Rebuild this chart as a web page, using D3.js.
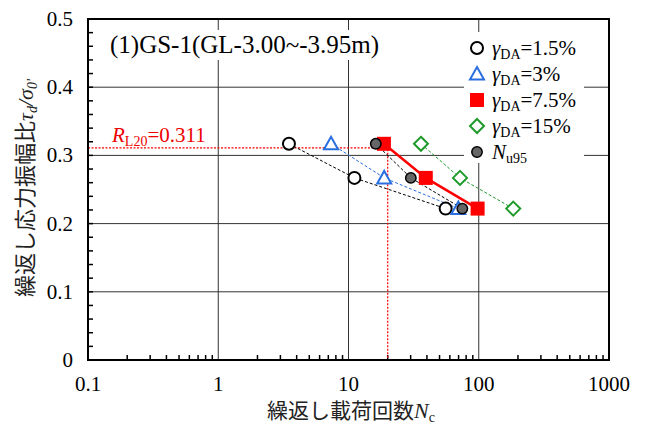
<!DOCTYPE html>
<html><head><meta charset="utf-8">
<script src="https://cdn.jsdelivr.net/npm/d3@7"></script>
<style>body{margin:0;background:#fff}svg{display:block}</style>
</head><body>
<svg id="c" width="646" height="424"></svg>
<script>
// ---- data ----
const stressRatio = [0.317, 0.267, 0.222];
const nc_DA1_5 = [3.49, 11.1, 55.7];
const nc_DA3 = [7.34, 18.8, 69.7];
const nc_DA7_5 = [18.7, 39.2, 98.0];
const nc_DA15 = [36.0, 71.8, 184];
const nc_Nu95 = [16.2, 30.1, 74.8];
const RL20 = 0.311;
const N20 = 20;
const xTicks = [0.1, 1, 10, 100, 1000];
const xTickLabels = ["0.1", "1", "10", "100", "1000"];
const yTicks = [0, 0.1, 0.2, 0.3, 0.4, 0.5];
const yTickLabels = ["0", "0.1", "0.2", "0.3", "0.4", "0.5"];
const legendLabels = ["=1.5%", "=3%", "=7.5%", "=15%"];

const svg = d3.select("#c");
const L = 88, R = 609, T = 19, B = 360;
const x = d3.scaleLog().domain([0.1, 1000]).range([L, R]);
const y = d3.scaleLinear().domain([0, 0.5]).range([B, T]);
const serif = "'Liberation Serif','Times New Roman',serif";
const cjk = "'Noto Sans CJK JP',sans-serif";

// grid
const g = svg.append("g");
g.selectAll("line.gx").data([1, 10, 100]).join("line")
  .attr("x1", d => x(d)).attr("x2", d => x(d)).attr("y1", T).attr("y2", B)
  .attr("stroke", "#333").attr("stroke-width", 1);
g.selectAll("line.gy").data([0.1, 0.2, 0.3, 0.4]).join("line")
  .attr("x1", L).attr("x2", R).attr("y1", d => y(d)).attr("y2", d => y(d))
  .attr("stroke", "#333").attr("stroke-width", 1);

// minor ticks (inward)
const xMinor = [];
for (let e = -1; e < 3; e++) for (let m = 2; m <= 9; m++) xMinor.push(m * Math.pow(10, e));
g.selectAll("line.mx").data(xMinor).join("line")
  .attr("x1", d => x(d)).attr("x2", d => x(d)).attr("y1", B).attr("y2", B - 5)
  .attr("stroke", "#000").attr("stroke-width", 1.5);
const yMinor = d3.range(1, 25).map(i => i * 0.02);
g.selectAll("line.my").data(yMinor).join("line")
  .attr("x1", L).attr("x2", L + 5).attr("y1", d => y(d)).attr("y2", d => y(d))
  .attr("stroke", "#000").attr("stroke-width", 1.5);

// RL20 reference lines
svg.append("path")
  .attr("d", `M${L},${y(RL20)}H${x(N20)}V${B}`)
  .attr("fill", "none").attr("stroke", "#f00").attr("stroke-width", 1.2)
  .attr("stroke-dasharray", "2,1.5");

// title with white background
const title = svg.append("text").attr("x", 110).attr("y", 53)
  .attr("font-family", serif).attr("font-size", 25).text("(1)GS-1(GL-3.00~-3.95m)");
const tb = title.node().getBBox();
svg.insert("rect", "text").attr("x", tb.x - 3).attr("y", tb.y - 1).attr("width", tb.width + 6).attr("height", tb.height + 2).attr("fill", "#fff");

// RL20 label
const rl = svg.append("text").attr("x", 112).attr("y", 142).attr("fill", "#e00")
  .attr("font-family", serif).attr("font-size", 21);
rl.append("tspan").attr("font-style", "italic").text("R");
rl.append("tspan").attr("font-size", 14).attr("dy", 4).text("L20");
rl.append("tspan").attr("dy", -4).text("=" + RL20.toFixed(3));

// series lines
const series = [
  {nc: nc_DA1_5, color: "#000", dash: "3,2", solid: false},
  {nc: nc_DA3, color: "#2a6fe0", dash: "3,2", solid: false},
  {nc: nc_DA7_5, color: "#f00", dash: null, solid: true},
  {nc: nc_DA15, color: "#1e9a2a", dash: "3,2", solid: false},
  {nc: nc_Nu95, color: "#000", dash: "3,2", solid: false}
];
const line = d3.line().x(d => x(d[0])).y(d => y(d[1]));
series.forEach(s => {
  svg.append("path").datum(s.nc.map((n, i) => [n, stressRatio[i]]))
    .attr("d", line).attr("fill", "none").attr("stroke", s.color)
    .attr("stroke-width", s.solid ? 2.5 : 1).attr("stroke-dasharray", s.dash);
});

// markers
function marker(sel, type, cx, cy) {
  if (type === 0) sel.append("circle").attr("cx", cx).attr("cy", cy).attr("r", 6).attr("fill", "#fff").attr("stroke", "#000").attr("stroke-width", 2);
  else if (type === 1) sel.append("path").attr("d", `M${cx},${cy - 7}L${cx + 7},${cy + 5.5}L${cx - 7},${cy + 5.5}Z`).attr("fill", "#fff").attr("stroke", "#2a6fe0").attr("stroke-width", 2);
  else if (type === 2) sel.append("rect").attr("x", cx - 7).attr("y", cy - 7).attr("width", 14).attr("height", 14).attr("fill", "#f00");
  else if (type === 3) sel.append("path").attr("d", `M${cx},${cy - 7}L${cx + 7},${cy}L${cx},${cy + 7}L${cx - 7},${cy}Z`).attr("fill", "#fff").attr("stroke", "#1e9a2a").attr("stroke-width", 2);
  else sel.append("circle").attr("cx", cx).attr("cy", cy).attr("r", 5.2).attr("fill", "#666").attr("stroke", "#000").attr("stroke-width", 1.5);
}
const mg = svg.append("g");
series.forEach((s, k) => s.nc.forEach((n, i) => marker(mg, k, x(n), y(stressRatio[i]))));

// legend
const lg = svg.append("g");
lg.append("rect").attr("x", 464).attr("y", 32).attr("width", 120).attr("height", 131).attr("fill", "#fff");
const ly = [48, 74, 100, 126, 152];
legendLabels.forEach((lab, i) => {
  marker(lg, i, 477, ly[i]);
  const t = lg.append("text").attr("x", 492).attr("y", ly[i] + 7).attr("font-family", serif).attr("font-size", 21);
  t.append("tspan").attr("font-style", "italic").text("γ");
  t.append("tspan").attr("font-size", 14).attr("dy", 4).text("DA");
  t.append("tspan").attr("dy", -4).text(lab);
});
marker(lg, 4, 477, ly[4]);
const tn = lg.append("text").attr("x", 492).attr("y", ly[4] + 7).attr("font-family", serif).attr("font-size", 21);
tn.append("tspan").attr("font-style", "italic").text("N");
tn.append("tspan").attr("font-size", 14).attr("dy", 4).text("u95");

// frame
svg.append("rect").attr("x", L).attr("y", T).attr("width", R - L).attr("height", B - T)
  .attr("fill", "none").attr("stroke", "#000").attr("stroke-width", 2);

// tick labels
svg.selectAll("text.xt").data(xTicks).join("text")
  .attr("x", d => x(d)).attr("y", 391).attr("text-anchor", "middle")
  .attr("font-family", serif).attr("font-size", 21).text((d, i) => xTickLabels[i]);
svg.selectAll("text.yt").data(yTicks).join("text")
  .attr("x", 73).attr("y", d => y(d) + 7).attr("text-anchor", "end")
  .attr("font-family", serif).attr("font-size", 21).text((d, i) => yTickLabels[i]);

// x title
const xt = svg.append("text").attr("x", 351).attr("y", 418).attr("text-anchor", "middle").attr("font-size", 21).attr("fill", "#222");
xt.append("tspan").attr("font-family", cjk).text("繰返し載荷回数");
xt.append("tspan").attr("font-family", serif).attr("font-style", "italic").attr("font-size", 22).text("N");
xt.append("tspan").attr("font-family", serif).attr("font-size", 14).attr("dy", 4).text("c");

// y title
const yt = svg.append("text").attr("transform", "translate(33,188) rotate(-90)").attr("text-anchor", "middle").attr("font-size", 22).attr("fill", "#222");
yt.append("tspan").attr("font-family", cjk).text("繰返し応力振幅比");
yt.append("tspan").attr("font-family", serif).attr("font-style", "italic").attr("font-size", 22).text("τ");
yt.append("tspan").attr("font-family", serif).attr("font-style", "italic").attr("font-size", 14).attr("dy", 4).text("d");
yt.append("tspan").attr("font-family", serif).attr("font-style", "italic").attr("font-size", 22).attr("dy", -4).text("/σ");
yt.append("tspan").attr("font-family", serif).attr("font-style", "italic").attr("font-size", 14).attr("dy", 4).text("0'");
</script>
</body></html>
